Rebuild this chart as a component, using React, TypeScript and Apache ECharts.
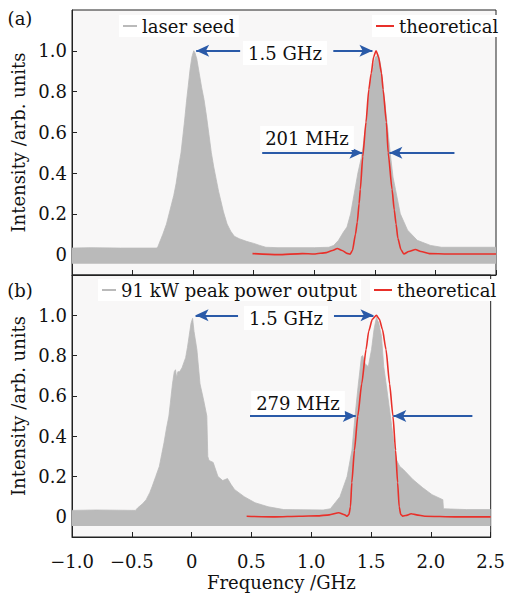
import React, { useEffect, useRef } from "react";
import * as echarts from "echarts";

const FONT = "DejaVu Serif";

const xTicks = [-1.0, -0.5, 0, 0.5, 1.0, 1.5, 2.0, 2.5];
const xTickLabels = ["−1.0", "−0.5", "0", "0.5", "1.0", "1.5", "2.0", "2.5"];
const yTicks = [0, 0.2, 0.4, 0.6, 0.8, 1.0];
const yTickLabels = ["0", "0.2", "0.4", "0.6", "0.8", "1.0"];

// Panel (a): measured laser seed spectrum [GHz, arb.]
const seedSpectrum = [
  [-1.0, 0.032], [-0.85, 0.034], [-0.6, 0.032], [-0.3, 0.032], [-0.29, 0.04], [-0.27, 0.07],
  [-0.25, 0.1], [-0.22, 0.15], [-0.19, 0.22], [-0.16, 0.29], [-0.14, 0.35], [-0.12, 0.43],
  [-0.1, 0.5], [-0.085, 0.58], [-0.07, 0.66], [-0.055, 0.75], [-0.04, 0.83], [-0.025, 0.91],
  [-0.01, 0.97], [0.005, 1.0], [0.015, 0.99], [0.03, 0.96], [0.05, 0.89], [0.07, 0.82],
  [0.09, 0.76], [0.11, 0.68], [0.13, 0.59], [0.15, 0.5], [0.17, 0.43], [0.19, 0.37],
  [0.21, 0.31], [0.23, 0.26], [0.25, 0.21], [0.28, 0.15], [0.31, 0.115], [0.34, 0.09],
  [0.38, 0.078], [0.44, 0.065], [0.5, 0.055], [0.55, 0.045], [0.6, 0.036], [0.7, 0.034],
  [1.0, 0.034], [1.12, 0.036], [1.16, 0.045], [1.2, 0.07], [1.24, 0.11], [1.27, 0.135],
  [1.3, 0.2], [1.33, 0.3], [1.36, 0.4], [1.39, 0.48], [1.41, 0.56], [1.43, 0.66],
  [1.455, 0.81], [1.48, 0.9], [1.505, 0.97], [1.53, 0.98], [1.55, 0.92], [1.57, 0.81],
  [1.6, 0.65], [1.63, 0.48], [1.65, 0.38], [1.67, 0.32], [1.71, 0.2], [1.77, 0.12],
  [1.85, 0.07], [1.96, 0.045], [2.05, 0.036], [2.5, 0.036],
];

const theoryA = [
  [0.49, 0.005], [0.7, 0.0], [0.9, 0.005], [1.0, 0.003], [1.1, 0.01], [1.15, 0.02],
  [1.19, 0.03], [1.23, 0.02], [1.27, 0.006], [1.295, 0.002], [1.315, 0.02], [1.34, 0.1],
  [1.355, 0.16], [1.37, 0.25], [1.38, 0.32], [1.4, 0.48], [1.427, 0.65], [1.45, 0.81],
  [1.47, 0.89], [1.49, 0.97], [1.51, 1.0], [1.53, 0.97], [1.555, 0.89], [1.568, 0.81],
  [1.595, 0.65], [1.61, 0.5], [1.642, 0.32], [1.66, 0.22], [1.675, 0.15], [1.69, 0.08],
  [1.715, 0.025], [1.74, 0.003], [1.78, 0.015], [1.835, 0.025], [1.88, 0.015], [1.95, 0.005],
  [2.1, 0.003], [2.5, 0.003],
];

// Panel (b): 91 kW peak power output spectrum
const outputSpectrum = [
  [-1.0, 0.032], [-0.8, 0.034], [-0.47, 0.032], [-0.45, 0.045], [-0.41, 0.065], [-0.38, 0.085],
  [-0.35, 0.12], [-0.33, 0.15], [-0.3, 0.2], [-0.27, 0.25], [-0.25, 0.31], [-0.23, 0.37],
  [-0.21, 0.44], [-0.19, 0.5], [-0.175, 0.58], [-0.16, 0.66], [-0.145, 0.72], [-0.135, 0.73],
  [-0.125, 0.69], [-0.115, 0.72], [-0.1, 0.72], [-0.08, 0.74], [-0.05, 0.79], [-0.035, 0.84],
  [-0.02, 0.9], [-0.005, 0.96], [0.008, 0.985], [0.02, 0.92], [0.044, 0.83], [0.07, 0.66],
  [0.1, 0.58], [0.127, 0.5], [0.135, 0.3], [0.145, 0.28], [0.18, 0.27], [0.22, 0.2],
  [0.26, 0.18], [0.3, 0.19], [0.33, 0.16], [0.36, 0.135], [0.44, 0.1], [0.53, 0.07],
  [0.64, 0.05], [0.77, 0.036], [1.1, 0.034], [1.16, 0.04], [1.2, 0.07], [1.24, 0.1],
  [1.3, 0.2], [1.34, 0.33], [1.366, 0.5], [1.394, 0.66], [1.42, 0.795], [1.43, 0.8],
  [1.45, 0.76], [1.477, 0.745], [1.504, 0.83], [1.525, 0.93], [1.545, 0.99], [1.565, 0.96],
  [1.587, 0.895], [1.606, 0.745], [1.628, 0.65], [1.655, 0.53], [1.68, 0.415], [1.7, 0.32],
  [1.71, 0.285], [1.74, 0.25], [1.77, 0.235], [1.85, 0.185], [1.93, 0.145], [2.01, 0.11],
  [2.1, 0.085], [2.105, 0.04], [2.3, 0.036], [2.5, 0.036],
];

const theoryB = [
  [0.46, 0.003], [0.7, 0.0], [0.9, 0.003], [1.05, 0.005], [1.15, 0.01], [1.23, 0.02],
  [1.28, 0.01], [1.3, 0.003], [1.315, 0.012], [1.328, 0.05], [1.339, 0.17], [1.361, 0.33],
  [1.389, 0.5], [1.422, 0.66], [1.458, 0.83], [1.48, 0.92], [1.51, 0.98], [1.545, 1.0],
  [1.57, 0.98], [1.595, 0.93], [1.625, 0.83], [1.655, 0.66], [1.683, 0.5], [1.705, 0.33],
  [1.722, 0.17], [1.735, 0.05], [1.748, 0.012], [1.765, 0.003], [1.79, 0.007], [1.835, 0.015],
  [1.88, 0.01], [1.95, 0.003], [2.2, 0.0], [2.5, 0.0],
];

// Annotation arrows [from, to] in data coordinates
const arrowsA = [
  [[0.388, 1.0], [0.025, 1.0]],
  [[1.157, 1.0], [1.48, 1.0]],
  [[0.57, 0.5], [1.397, 0.5]],
  [[2.157, 0.5], [1.62, 0.5]],
];
const arrowsB = [
  [[0.388, 1.0], [0.033, 1.0]],
  [[1.19, 1.0], [1.52, 1.0]],
  [[0.488, 0.5], [1.372, 0.5]],
  [[2.347, 0.5], [1.686, 0.5]],
];

const GRAY = "#bababa";
const RED = "#e8302a";
const BLUE = "#2a5aa8";
const AXIS = "#222";

function xFmt(v: number) {
  const i = xTicks.findIndex((t) => Math.abs(t - v) < 1e-6);
  return i >= 0 ? xTickLabels[i] : "";
}
function yFmt(v: number) {
  const i = yTicks.findIndex((t) => Math.abs(t - v) < 1e-6);
  return i >= 0 ? yTickLabels[i] : "";
}

function makeX(gridIndex: number, showLabels: boolean) {
  return {
    type: "value",
    gridIndex,
    min: -1.0,
    max: 2.5,
    interval: 0.5,
    name: showLabels ? "Frequency /GHz" : "",
    nameLocation: "middle",
    nameGap: 36,
    nameTextStyle: { fontFamily: FONT, fontSize: 18, color: "#111" },
    axisLine: { show: true, onZero: false, lineStyle: { color: AXIS, width: 1 } },
    axisTick: { show: true, inside: true, length: 5, lineStyle: { color: AXIS } },
    axisLabel: {
      show: showLabels,
      formatter: xFmt,
      fontFamily: FONT,
      fontSize: 18,
      color: "#111",
      margin: 15,
    },
    splitLine: { show: false },
  };
}

function makeY(gridIndex: number) {
  return {
    type: "value",
    gridIndex,
    min: -0.1,
    max: 1.2,
    name: "Intensity /arb. units",
    nameLocation: "middle",
    nameGap: 38,
    nameTextStyle: { fontFamily: FONT, fontSize: 18, color: "#111" },
    axisLine: { show: true, onZero: false, lineStyle: { color: AXIS, width: 1 } },
    axisTick: { show: true, inside: true, length: 5, customValues: yTicks, lineStyle: { color: AXIS } },
    axisLabel: {
      show: true,
      customValues: yTicks,
      formatter: yFmt,
      fontFamily: FONT,
      fontSize: 18,
      color: "#111",
      margin: 5,
    },
    splitLine: { show: false },
  };
}

function arrowLine(arrows: number[][][]) {
  return {
    silent: true,
    symbol: ["none", "arrow"],
    symbolSize: [9, 13],
    label: { show: false },
    lineStyle: { color: BLUE, width: 2, type: "solid" },
    emphasis: { disabled: true },
    data: arrows.map((a) => [{ coord: a[0] }, { coord: a[1] }]),
  };
}

function grayArea(name: string, data: number[][], idx: number) {
  return {
    name,
    type: "line",
    xAxisIndex: idx,
    yAxisIndex: idx,
    data,
    showSymbol: false,
    symbol: "none",
    lineStyle: { color: GRAY, width: 0.8 },
    itemStyle: { color: GRAY },
    areaStyle: { color: GRAY, opacity: 1, origin: -0.045 },
    z: 2,
  };
}

function redLine(data: number[][], idx: number, arrows: number[][][]) {
  return {
    name: "theoretical",
    type: "line",
    xAxisIndex: idx,
    yAxisIndex: idx,
    data,
    showSymbol: false,
    symbol: "none",
    smooth: 0.2,
    smoothMonotone: "x",
    lineStyle: { color: RED, width: 1.6 },
    itemStyle: { color: RED },
    markLine: arrowLine(arrows),
    z: 3,
  };
}

function legendItem(name: string, left: number, top: number, w: number) {
  return {
    data: [{ name, icon: "rect" }],
    left,
    top,
    itemWidth: w,
    itemHeight: 2,
    selectedMode: false,
    backgroundColor: "#ffffff",
    padding: [2, 4],
    textStyle: { fontFamily: FONT, fontSize: 18, color: "#111" },
  };
}

function label(text: string, x: number, y: number, bg: boolean) {
  return {
    type: "text",
    x,
    y,
    z: 100,
    style: {
      text,
      fontFamily: FONT,
      fontSize: 18,
      fill: "#111",
      align: "center",
      verticalAlign: "middle",
      backgroundColor: bg ? "#ffffff" : undefined,
      padding: bg ? [3, 5] : 0,
    },
  };
}

export default function App() {
  const ref = useRef<HTMLDivElement>(null);
  useEffect(() => {
    if (!ref.current) return;
    const chart = echarts.init(ref.current, undefined, { renderer: "svg" });
    const option = {
      animation: false,
      backgroundColor: "#ffffff",
      grid: [
        { left: 72, top: 10, width: 424, height: 265, show: true, borderColor: AXIS, borderWidth: 1, backgroundColor: "#f8f7f7" },
        { left: 72, top: 275, width: 424, height: 262, show: true, borderColor: AXIS, borderWidth: 1, backgroundColor: "#f8f7f7" },
      ],
      xAxis: [makeX(0, false), makeX(1, true)],
      yAxis: [makeY(0), makeY(1)],
      legend: [
        legendItem("laser seed", 119, 15, 14),
        legendItem("theoretical", 372, 15, 18),
        legendItem("91 kW peak power output", 98, 279, 14),
        legendItem("theoretical", 370, 279, 18),
      ],
      series: [
        grayArea("laser seed", seedSpectrum, 0),
        redLine(theoryA, 0, arrowsA),
        grayArea("91 kW peak power output", outputSpectrum, 1),
        redLine(theoryB, 1, arrowsB),
      ],
      graphic: [
        label("(a)", 20, 18, false),
        label("(b)", 20, 290, false),
        label("1.5 GHz", 285, 53, true),
        label("201 MHz", 307, 138, true),
        label("1.5 GHz", 286, 318, true),
        label("279 MHz", 298, 403, true),
      ],
    };
    chart.setOption(option as any);
    return () => chart.dispose();
  }, []);
  return (
    <div
      ref={ref}
      style={{ position: "fixed", left: 0, top: 0, width: 508, height: 593 }}
    />
  );
}
